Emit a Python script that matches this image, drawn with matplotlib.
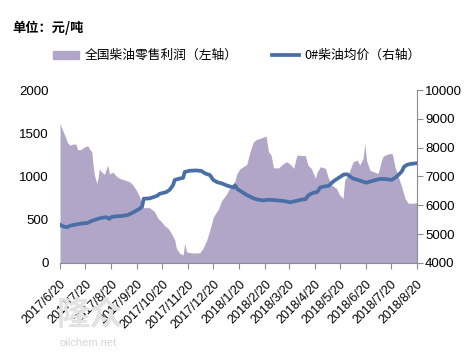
import matplotlib
matplotlib.use("Agg")
import matplotlib.pyplot as plt
import numpy as np
import pandas as pd
from matplotlib.patches import Rectangle
from matplotlib.lines import Line2D

start = pd.Timestamp("2017-06-20")

# Retail profit (left axis), day offsets from 2017-06-20
profit_days = [0, 2, 6, 9, 12, 15, 19, 21, 25, 28, 33, 36, 38, 39, 41, 44, 45, 47, 50, 53,
               57, 59, 63, 68, 71, 77, 83, 87, 91, 95, 98, 100, 107, 113, 117, 121, 125, 129,
               133, 137, 139, 143, 147, 149, 151, 155, 161, 167, 171, 175, 179, 183, 189, 193,
               199, 203, 209, 211, 215, 223, 227, 231, 235, 239, 246, 249, 252, 255, 261, 267,
               271, 276, 279, 283, 293, 296, 300, 305, 307, 311, 317, 320, 324, 330, 334, 338,
               340, 344, 350, 355, 358, 362, 364, 366, 370, 374, 380, 384, 386, 394, 397, 400,
               404, 408, 412, 416, 422, 426]
profit = [1620, 1560, 1470, 1390, 1360, 1375, 1375, 1310, 1310, 1335, 1356, 1306, 1287, 1171,
          1017, 921, 960, 1087, 1050, 1025, 1133, 1030, 1050, 998, 979, 960, 940, 902, 844, 767,
          670, 640, 640, 593, 516, 478, 430, 401, 343, 266, 170, 112, 92, 231, 131, 119, 115,
          119, 173, 260, 381, 530, 620, 720, 800, 870, 950, 1030, 1090, 1140, 1287, 1402, 1430,
          1441, 1468, 1287, 1250, 1100, 1100, 1152, 1171, 1133, 1094, 1248, 1240, 1133, 1094,
          979, 1050, 1113, 1094, 998, 902, 864, 786, 748, 959, 1017, 1171, 1190, 1133, 1210,
          1383, 1190, 1075, 1056, 1036, 1190, 1237, 1268, 1260, 1113, 998, 882, 748, 690, 690,
          700]

# 0# diesel average price (right axis)
price_days = [0, 3, 8, 13, 20, 26, 33, 38, 44, 49, 55, 59, 61, 67, 74, 81, 87, 92, 95, 98,
              100, 107, 111, 116, 119, 127, 131, 135, 137, 143, 147, 149, 155, 163, 169, 173,
              179, 183, 188, 193, 200, 207, 209, 212, 217, 223, 231, 236, 243, 248, 255, 260,
              267, 275, 283, 289, 293, 297, 303, 307, 311, 317, 321, 326, 331, 335, 339, 343,
              347, 350, 356, 361, 366, 370, 374, 382, 388, 396, 402, 408, 411, 414, 418, 426]
price = [5330, 5280, 5240, 5300, 5340, 5370, 5390, 5460, 5520, 5560, 5590, 5530, 5590, 5620,
         5630, 5665, 5750, 5830, 5880, 5960, 6230, 6240, 6280, 6330, 6400, 6460, 6540, 6700,
         6880, 6930, 6950, 7160, 7200, 7210, 7190, 7110, 7050, 6880, 6800, 6763, 6680, 6620,
         6690, 6560, 6470, 6360, 6243, 6200, 6170, 6190, 6185, 6170, 6150, 6105, 6160, 6200,
         6210, 6358, 6440, 6460, 6624, 6660, 6680, 6820, 6920, 6994, 7070, 7075, 6990, 6930,
         6878, 6830, 6786, 6820, 6855, 6913, 6913, 6880, 6994, 7166, 7340, 7400, 7433, 7460]

tick_labels = ["2017/6/20", "2017/7/20", "2017/8/20", "2017/9/20", "2017/10/20",
               "2017/11/20", "2017/12/20", "2018/1/20", "2018/2/20", "2018/3/20",
               "2018/4/20", "2018/5/20", "2018/6/20", "2018/7/20", "2018/8/20"]
legend_left = "全国柴油零售利润（左轴）"
legend_right = "0#柴油均价（右轴）"
unit_text = "单位：元/吨"

plt.rcParams['font.family'] = ['Liberation Sans', 'Noto Sans CJK SC', 'DejaVu Sans']
cjk = ['Noto Sans CJK SC', 'DejaVu Sans']

area_color = "#b2a6c8"
line_color = "#4a6fa6"
axis_color = "#8c8c8c"

pdates = [start + pd.Timedelta(days=d) for d in profit_days]
qdates = [start + pd.Timedelta(days=d) for d in price_days]
tdates = [pd.Timestamp(s.replace("/", "-")) for s in tick_labels]

fig = plt.figure(figsize=(4.77, 3.58), dpi=100)

# watermark (behind everything)
fig.text(57 / 477, 1 - 316 / 358, "隆众", family=cjk, fontsize=24, fontweight='bold',
         color='#e2e2e2', va='center', ha='left', zorder=0)
fig.text(60 / 477, 1 - 343 / 358, "oilchem.net", fontsize=8, color='#d6d6d6',
         va='center', ha='left', zorder=0)

ax = fig.add_axes([0.1258, 0.2654, 0.8736 - 0.1258, 0.7486 - 0.2654])
ax.patch.set_alpha(0)
ax2 = ax.twinx()

ax.fill_between(pdates, 0, profit, color=area_color, linewidth=0)
ax2.plot(qdates, price, color=line_color, linewidth=2.7, solid_joinstyle='round')

ax.set_xlim(start, tdates[-1])
ax.set_ylim(0, 2000)
ax2.set_ylim(4000, 10000)
ax.set_yticks([0, 500, 1000, 1500, 2000])
ax2.set_yticks([4000, 5000, 6000, 7000, 8000, 9000, 10000])
ax.set_xticks(tdates)
ax.set_xticklabels(tick_labels, rotation=45, ha='right', va='top', rotation_mode='anchor',
                   fontsize=9)

for a in (ax, ax2):
    for s in a.spines.values():
        s.set_visible(False)
ax.spines['bottom'].set_visible(True)
ax.spines['bottom'].set_color(axis_color)
ax2.spines['right'].set_visible(True)
ax2.spines['right'].set_color(axis_color)

ax.tick_params(axis='y', length=0, labelsize=9.5, pad=8)
ax.tick_params(axis='x', length=4, color=axis_color, labelsize=9, pad=7)
ax2.tick_params(axis='y', length=4, color=axis_color, labelsize=9.5, pad=2)

fig.text(12 / 477, 1 - 28 / 358, unit_text, family=cjk, fontsize=9.5, fontweight='bold',
         va='center', ha='left')

# legend
fig.patches.append(Rectangle((53 / 477, 1 - 59 / 358), 26 / 477, 8 / 358,
                             transform=fig.transFigure, color=area_color))
fig.text(85 / 477, 1 - 55 / 358, legend_left, family=cjk, fontsize=9.2, va='center', ha='left')
fig.lines.append(Line2D([272 / 477, 299 / 477], [1 - 55 / 358, 1 - 55 / 358],
                        transform=fig.transFigure, color=line_color, linewidth=2.7))
fig.text(304 / 477, 1 - 55 / 358, legend_right, family=cjk, fontsize=9.2, va='center', ha='left')

fig.savefig("out.png", dpi=100)
